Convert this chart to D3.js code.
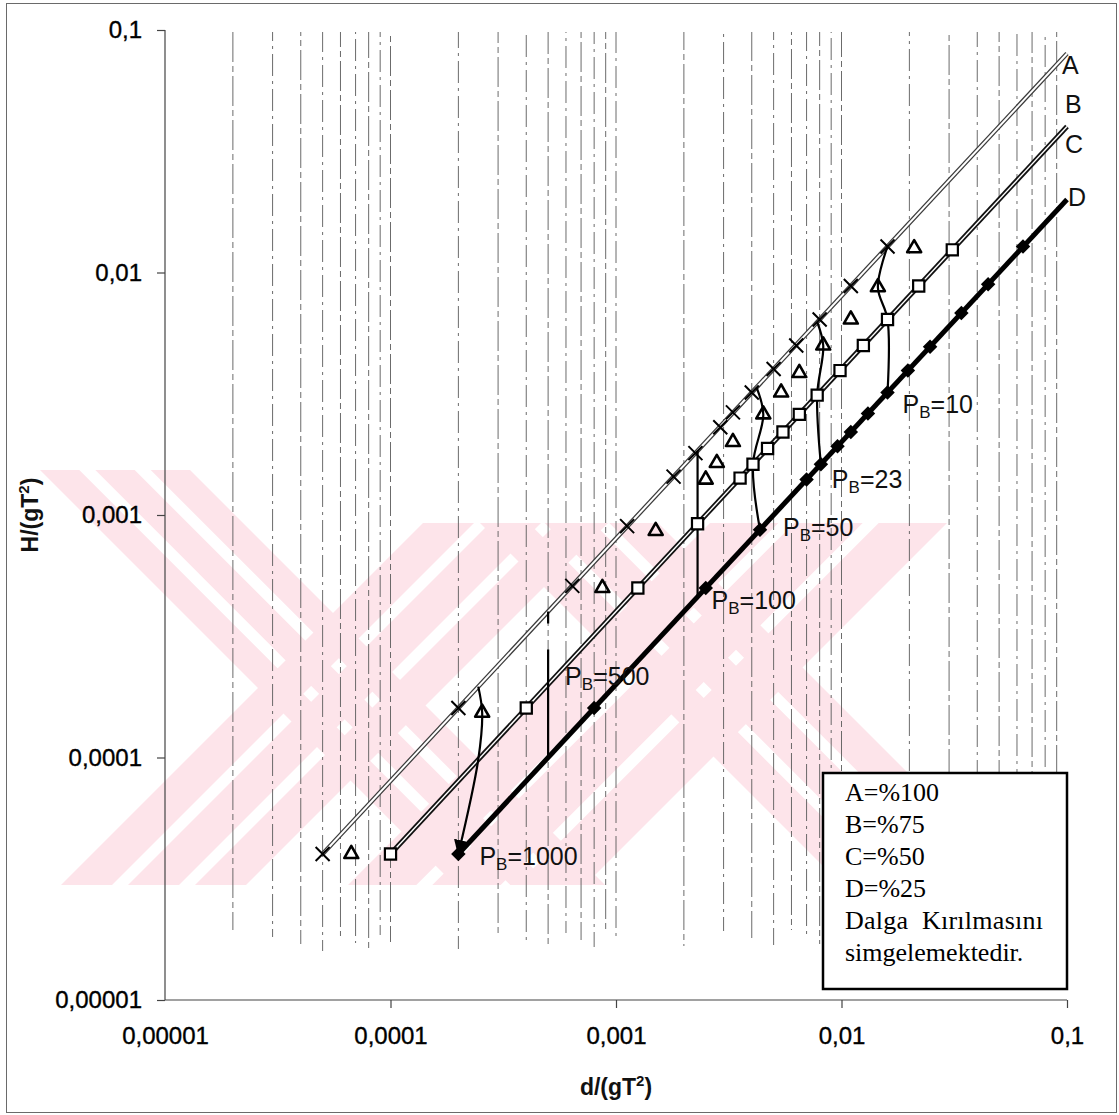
<!DOCTYPE html>
<html>
<head>
<meta charset="utf-8">
<script src="https://cdn.jsdelivr.net/npm/d3@7"></script>
<style>
  html, body { margin: 0; padding: 0; background: #fff; }
  svg { display: block; }
</style>
</head>
<body>
<svg id="chart" width="1119" height="1115"></svg>
<script>
// Breaking-wave diagram: H/(gT²) against d/(gT²) on log–log axes.

// ---- axis ticks ----
const xTickValues = [1e-5, 1e-4, 1e-3, 1e-2, 1e-1];
const xTickLabels = ["0,00001", "0,0001", "0,001", "0,01", "0,1"];
const yTickValues = [1e-5, 1e-4, 1e-3, 1e-2, 1e-1];
const yTickLabels = ["0,00001", "0,0001", "0,001", "0,01", "0,1"];

// ---- reference lines (A = 100 %, C = 50 %, D = 25 %) ----
const lineA = [[5e-5, 4e-5], [0.1, 0.08]];
const lineC = [[1e-4, 4e-5], [0.1, 0.04]];
const lineD = [[2e-4, 4e-5], [0.1, 0.02]];
const lineNames = ["A", "B", "C", "D"];

// ---- measured points on each line [d/gT², H/gT²] ----
const pointsA = [
  [5e-5, 4e-5], [2e-4, 1.6e-4], [6.4e-4, 5.1e-4], [1.12e-3, 9e-4], [1.8e-3, 1.44e-3],
  [2.25e-3, 1.8e-3], [2.9e-3, 2.3e-3], [3.3e-3, 2.65e-3], [4e-3, 3.2e-3], [5e-3, 4e-3],
  [6.3e-3, 5e-3], [8e-3, 6.4e-3], [0.011, 8.8e-3], [0.016, 0.0128]
];
const pointsB = [
  [6.7e-5, 4e-5], [2.55e-4, 1.53e-4], [8.7e-4, 5e-4], [1.5e-3, 8.6e-4], [2.5e-3, 1.4e-3],
  [2.8e-3, 1.64e-3], [3.3e-3, 2.0e-3], [4.5e-3, 2.6e-3], [5.4e-3, 3.2e-3], [6.5e-3, 3.85e-3],
  [8.3e-3, 5e-3], [0.011, 6.4e-3], [0.0145, 8.7e-3], [0.021, 0.0126]
];
const pointsC = [
  [1e-4, 4e-5], [4e-4, 1.6e-4], [1.25e-3, 5e-4], [2.3e-3, 9.2e-4], [3.55e-3, 1.42e-3],
  [4.05e-3, 1.62e-3], [4.7e-3, 1.88e-3], [5.5e-3, 2.2e-3], [6.5e-3, 2.6e-3], [7.8e-3, 3.12e-3],
  [9.85e-3, 3.94e-3], [0.0125, 5e-3], [0.016, 6.4e-3], [0.022, 8.8e-3], [0.031, 0.0124]
];
const pointsD = [
  [2e-4, 4e-5], [8e-4, 1.6e-4], [2.5e-3, 5e-4], [4.35e-3, 8.7e-4], [7e-3, 1.4e-3],
  [8.1e-3, 1.62e-3], [9.6e-3, 1.92e-3], [0.011, 2.2e-3], [0.0131, 2.62e-3], [0.016, 3.2e-3],
  [0.0197, 3.94e-3], [0.0247, 4.94e-3], [0.034, 6.8e-3], [0.0447, 8.94e-3], [0.0638, 0.0128]
];

// ---- constant-P_B breaking curves (A -> B -> C -> D) ----
const pb10   = [[0.016, 0.0128], [0.0145, 8.7e-3], [0.016, 6.4e-3], [0.016, 3.2e-3]];
const pb23   = [[7.8e-3, 6.24e-3], [8.3e-3, 5e-3], [7.8e-3, 3.12e-3], [8.1e-3, 1.62e-3]];
const pb50   = [[4.2e-3, 3.36e-3], [4.5e-3, 2.6e-3], [4.05e-3, 1.62e-3], [4.35e-3, 8.7e-4]];
const pb100  = [[2.3e-3, 1.84e-3], [2.3e-3, 4.6e-4]];
const pb500  = [[5e-4, 4e-4], [5e-4, 1e-4]];
const pb1000 = [[2.45e-4, 1.96e-4], [2.55e-4, 1.53e-4], [2.45e-4, 9.8e-5], [2e-4, 4e-5]];
const pbNames = ["10", "23", "50", "100", "500", "1000"];

// ---- legend text ----
const legendLines = ["A=%100", "B=%75", "C=%50", "D=%25", "Dalga  Kırılmasını", "simgelemektedir."];

// =====================================================================
const svg = d3.select("#chart");

const x = d3.scaleLog().domain([1e-5, 0.1]).range([165, 1067]);
const y = d3.scaleLog().domain([1e-5, 0.1]).range([1000, 30]);

// outer frame
svg.append("rect")
  .attr("x", 6.5).attr("y", 3.5).attr("width", 1110).attr("height", 1109)
  .attr("fill", "#fff").attr("stroke", "#6a6a6a").attr("stroke-width", 1);

// pale striped emblem in the background: four diagonal bands, each split in three
const emblem = svg.append("g").attr("class", "emblem").attr("fill", "#fde4ea");
const emblemBottom = 885, stripeGap = 16;
const emblemBands = [
  { dir: "back", top: 470, x0: 40,  w: 150 },
  { dir: "fwd",  top: 523, x0: 61,  w: 185 },
  { dir: "back", top: 523, x0: 480, w: 178 },
  { dir: "fwd",  top: 523, x0: 348, w: 237 }
];
emblemBands.forEach(b => {
  const h = emblemBottom - b.top;
  const sw = (b.w - 2 * stripeGap) / 3;
  for (let k = 0; k < 3; k++) {
    const a = b.x0 + k * (sw + stripeGap), c = a + sw;
    let pts;
    if (b.dir === "back") {      // "\" : x0 measured along the top edge
      pts = [[a, b.top], [c, b.top], [c + h, emblemBottom], [a + h, emblemBottom]];
    } else {                      // "/" : x0 measured along the bottom edge
      pts = [[a, emblemBottom], [c, emblemBottom], [c + h, b.top], [a + h, b.top]];
    }
    emblem.append("path").attr("d", "M" + pts.map(p => p.join(",")).join("L") + "Z");
  }
});

// vertical dashed grid at every decade subdivision
const gridVals = x.ticks().filter(v => v > 1.0001e-5 && v < 0.0999);
svg.append("g").selectAll("line").data(gridVals).join("line")
  .attr("x1", d => x(d)).attr("x2", d => x(d))
  .attr("y1", 32).attr("y2", (d, i) => 930 + (i * 7) % 22)
  .attr("stroke", "#5a5a5a").attr("stroke-width", 0.9)
  .attr("stroke-dasharray", (d, i) => i % 2 ? "22,5,3,5" : "30,4,6,4")
  .attr("stroke-dashoffset", (d, i) => (i * 13) % 37);

// axes
const axisFont = "'Liberation Sans', Arial, sans-serif";
const xAxis = d3.axisBottom(x).tickValues(xTickValues)
  .tickFormat((d, i) => xTickLabels[i]).tickSize(8).tickSizeOuter(0).tickPadding(19);
const yAxis = d3.axisLeft(y).tickValues(yTickValues)
  .tickFormat((d, i) => yTickLabels[i]).tickSize(8).tickSizeOuter(0).tickPadding(15);

const gx = svg.append("g").attr("transform", "translate(0,1000)").call(xAxis);
const gy = svg.append("g").attr("transform", "translate(165,0)").call(yAxis);
[gx, gy].forEach(g => {
  g.select(".domain").attr("stroke", "#444").attr("stroke-width", 1.2);
  g.selectAll(".tick line").attr("stroke", "#444").attr("stroke-width", 1.2);
  g.selectAll(".tick text").attr("font-family", axisFont).attr("font-size", 24)
    .attr("fill", "#000").attr("stroke", "#000").attr("stroke-width", 0.35);
});
gx.select(".domain").attr("d", `M${x(1e-5)},0H${x(0.1)}`);
gy.select(".domain").attr("d", `M0,${y(1e-5)}V${y(0.1)}`);
gx.selectAll(".tick").filter(d => d === 1e-5).select("line").remove();

// axis titles
const xTitle = svg.append("text")
  .attr("x", (x(1e-5) + x(0.1)) / 2).attr("y", 1095)
  .attr("text-anchor", "middle").attr("font-family", axisFont)
  .attr("font-weight", "bold").attr("font-size", 23).attr("fill", "#111");
xTitle.append("tspan").text("d/(gT");
xTitle.append("tspan").attr("font-size", 15).attr("dy", -9).text("2");
xTitle.append("tspan").attr("dy", 9).text(")");

const yTitle = svg.append("text")
  .attr("transform", `translate(38,${(y(1e-5) + y(0.1)) / 2}) rotate(-90)`)
  .attr("text-anchor", "middle").attr("font-family", axisFont)
  .attr("font-weight", "bold").attr("font-size", 23).attr("fill", "#111");
yTitle.append("tspan").text("H/(gT");
yTitle.append("tspan").attr("font-size", 15).attr("dy", -9).text("2");
yTitle.append("tspan").attr("dy", 9).text(")");

// reference lines
const straight = d3.line().x(d => x(d[0])).y(d => y(d[1]));
const plot = svg.append("g");

// A: double (outlined) line
plot.append("path").attr("d", straight(lineA)).attr("fill", "none")
  .attr("stroke", "#3a3a3a").attr("stroke-width", 4.5);
plot.append("path").attr("d", straight(lineA)).attr("fill", "none")
  .attr("stroke", "#fff").attr("stroke-width", 2);
// C: heavier double line
plot.append("path").attr("d", straight(lineC)).attr("fill", "none")
  .attr("stroke", "#111").attr("stroke-width", 5);
plot.append("path").attr("d", straight(lineC)).attr("fill", "none")
  .attr("stroke", "#fff").attr("stroke-width", 1.4);
// D: solid heavy line
plot.append("path").attr("d", straight(lineD)).attr("fill", "none")
  .attr("stroke", "#000").attr("stroke-width", 5);

// breaking curves
svg.append("defs").append("marker")
  .attr("id", "arrow").attr("viewBox", "0 0 10 10")
  .attr("refX", 9).attr("refY", 5).attr("markerWidth", 7).attr("markerHeight", 7)
  .attr("orient", "auto")
  .append("path").attr("d", "M0,0L10,5L0,10Z").attr("fill", "#000");

const smooth = d3.line().x(d => x(d[0])).y(d => y(d[1])).curve(d3.curveCatmullRom.alpha(0.5));
const curves = [pb10, pb23, pb50, pb100, pb500, pb1000];
curves.forEach((c, i) => {
  const p = plot.append("path").attr("d", smooth(c)).attr("fill", "none")
    .attr("stroke", "#000").attr("stroke-width", 2.2);
  if (pbNames[i] === "1000") p.attr("marker-end", "url(#arrow)");
  if (pbNames[i] === "500") p.attr("stroke-dasharray", "12,26,400");
});

// markers
const mk = svg.append("g");
mk.selectAll(".mA").data(pointsA).join("path").attr("class", "mA")
  .attr("transform", d => `translate(${x(d[0])},${y(d[1])})`)
  .attr("d", "M-7,-7L7,7M-7,7L7,-7")
  .attr("stroke", "#000").attr("stroke-width", 2).attr("fill", "none");
mk.selectAll(".mB").data(pointsB).join("path").attr("class", "mB")
  .attr("transform", d => `translate(${x(d[0])},${y(d[1])})`)
  .attr("d", d3.symbol(d3.symbolTriangle, 85))
  .attr("stroke", "#000").attr("stroke-width", 2.6).attr("fill", "none")
  .attr("stroke-linejoin", "round");
mk.selectAll(".mC").data(pointsC).join("path").attr("class", "mC")
  .attr("transform", d => `translate(${x(d[0])},${y(d[1])})`)
  .attr("d", d3.symbol(d3.symbolSquare, 125))
  .attr("stroke", "#000").attr("stroke-width", 2.2).attr("fill", "#fff");
mk.selectAll(".mD").data(pointsD).join("path").attr("class", "mD")
  .attr("transform", d => `translate(${x(d[0])},${y(d[1])}) rotate(45)`)
  .attr("d", d3.symbol(d3.symbolSquare, 105))
  .attr("fill", "#000");

// P_B labels, placed beside each curve's end on line D
const labelOffsets = [[15, 20], [11, 24], [23, 6], [14, 12], [17, -73], [21, 11]];
curves.forEach((c, i) => {
  const end = c[c.length - 1];
  const t = svg.append("text")
    .attr("x", x(end[0]) + labelOffsets[i][0]).attr("y", y(end[1]) + labelOffsets[i][1])
    .attr("font-family", axisFont).attr("font-size", 25).attr("fill", "#111");
  t.append("tspan").text("P");
  t.append("tspan").attr("font-size", 17).attr("dy", 5).text("B");
  t.append("tspan").attr("dy", -5).text("=" + pbNames[i]);
});

// line names at the right-hand end
const nameY = [lineA[1][1], null, lineC[1][1], lineD[1][1]];
const nameOffsets = [[-5, 20], [-2, 0], [-2, 26], [1, 6]];
lineNames.forEach((n, i) => {
  const yy = n === "B" ? (y(lineA[1][1]) + y(lineC[1][1])) / 2 + 23 : y(nameY[i]) + nameOffsets[i][1];
  svg.append("text")
    .attr("x", x(0.1) + nameOffsets[i][0]).attr("y", yy)
    .attr("font-family", axisFont).attr("font-size", 25).attr("fill", "#111")
    .text(n);
});

// legend box
const lg = svg.append("g");
lg.append("rect").attr("x", 823).attr("y", 773).attr("width", 244).attr("height", 216)
  .attr("fill", "#fff").attr("stroke", "#000").attr("stroke-width", 2.5);
legendLines.forEach((s, i) => {
  const t = lg.append("text")
    .attr("x", 845).attr("y", 801 + i * 32)
    .attr("font-family", "'Liberation Serif', 'Times New Roman', serif")
    .attr("font-size", 26).attr("fill", "#000")
    .attr("xml:space", "preserve")
    .text(s);
  if (i === 4) t.attr("textLength", 198).attr("lengthAdjust", "spacing");
});
</script>
</body>
</html>
